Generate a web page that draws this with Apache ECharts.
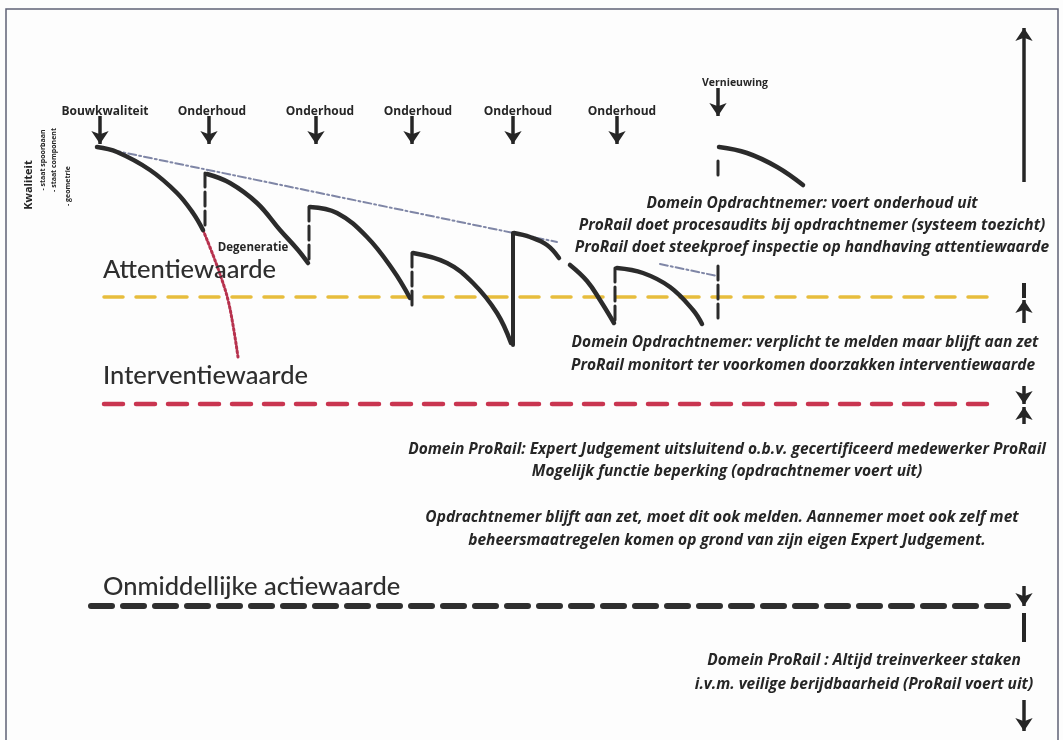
<!DOCTYPE html>
<html>
<head>
<meta charset="utf-8">
<script src="https://cdn.jsdelivr.net/npm/echarts@6/dist/echarts.min.js"></script>
<style>
  html, body { margin: 0; padding: 0; background: #fdfdfd; }
  #chart { width: 1063px; height: 740px; }
</style>
</head>
<body>
<div id="chart"></div>
<script>
// tijdas (x) en kwaliteit (y, naar beneden = slechter)
var bouwCurve = [[97, 147], [117, 152], [150, 170], [177, 193], [193, 213], [203, 230]];
var onderhoud1 = [[207, 174], [230, 183], [257, 203], [280, 230], [298, 250], [308, 263]];
var onderhoud2 = [[310, 207], [337, 213], [367, 237], [393, 270], [410, 298]];
var onderhoud3 = [[413, 253], [447, 263], [473, 283], [497, 313], [511, 343]];
var onderhoud4a = [[514, 233], [530, 237], [547, 245], [559, 258]];
var onderhoud4b = [[570, 265], [587, 281], [600, 300], [614, 323]];
var onderhoud5 = [[617, 268], [643, 273], [670, 287], [693, 310], [702, 324]];
var vernieuwCurve = [[719, 147], [747, 153], [777, 167], [803, 185]];

var degeneratie = [[203, 230], [213, 255], [222, 280], [228, 300], [233, 325], [238, 357]];
var trendA = [[97, 147], [557, 242]];
var trendB = [[660, 264], [717, 276]];

// sprongen door onderhoud: [x, van, tot]
var sprongen = [[205, 173, 230], [309, 207, 262], [412, 253, 308], [615, 268, 323], [718, 266, 323], [718, 161, 179]];
var sprongVol = [513, 233, 345];

// grenswaarden
var attentie = 297;
var interventie = 404;
var actie = 606;

var eventX = [100, 209, 316, 412, 513, 617];
var eventNamen = ['Bouwkwaliteit', 'Onderhoud', 'Onderhoud', 'Onderhoud', 'Onderhoud', 'Onderhoud'];
var vernieuwX = 718;

var chart = echarts.init(document.getElementById('chart'));

function lijn(data, color, width, type, smooth) {
    return {
        type: 'line',
        data: data,
        smooth: smooth ? 0.4 : false,
        symbol: 'none',
        silent: true,
        lineStyle: { color: color, width: width, type: type || 'solid', cap: 'round' },
        z: 3
    };
}

var series = [];

// grenslijnen
series.push(lijn([[104, attentie], [987, attentie]], '#e7bd3d', 3.5, [19, 13]));
series.push(lijn([[104, interventie], [987, interventie]], '#c93550', 4.5, [19, 13]));
series.push(lijn([[91, actie], [1018, actie]], '#2f2f2f', 6, [21, 11]));

// trendlijn
series.push(lijn(trendA, '#7f86a6', 2, [8, 3, 2, 3]));
series.push(lijn(trendB, '#7f86a6', 2, [8, 3, 2, 3]));

// degeneratie
series.push(lijn(degeneratie, '#b7324e', 3, [2, 2.5], true));

// kwaliteitscurves
[bouwCurve, onderhoud1, onderhoud2, onderhoud3, onderhoud4a, onderhoud4b, onderhoud5, vernieuwCurve].forEach(function (c) {
    var s = lijn(c, '#2b2b2b', 4.5, 'solid', true);
    s.z = 4;
    series.push(s);
});

// verticale sprongen
sprongen.forEach(function (s) {
    series.push(lijn([[s[0], s[1]], [s[0], s[2]]], '#2b2b2b', 3, [14, 5]));
});
series.push(lijn([[sprongVol[0], sprongVol[1]], [sprongVol[0], sprongVol[2]]], '#2b2b2b', 4));

// pijlen
var pijlen = eventX.map(function (x) {
    return { coords: [[x, 116], [x, 144]] };
});
pijlen.push({ coords: [[vernieuwX, 88], [vernieuwX, 116]] });
pijlen.push({ coords: [[1024, 182], [1024, 28]] });
pijlen.push({ coords: [[1024, 323], [1024, 300]] });
pijlen.push({ coords: [[1024, 386], [1024, 404]] });
pijlen.push({ coords: [[1024, 424], [1024, 407]] });
pijlen.push({ coords: [[1024, 586], [1024, 606]] });
pijlen.push({ coords: [[1024, 700], [1024, 731]] });

series.push({
    type: 'lines',
    coordinateSystem: 'cartesian2d',
    silent: true,
    symbol: ['none', 'arrow'],
    symbolSize: 13,
    lineStyle: { color: '#262626', width: 3.5, opacity: 1 },
    data: pijlen,
    z: 5
});
series.push({
    type: 'lines',
    coordinateSystem: 'cartesian2d',
    silent: true,
    symbol: 'none',
    lineStyle: { color: '#262626', width: 4, opacity: 1 },
    data: [{ coords: [[1024, 283], [1024, 298]] }, { coords: [[1024, 613], [1024, 642]] }],
    z: 5
});

// teksten
var graphic = [];
graphic.push({
    type: 'rect',
    shape: { x: 6, y: 9, width: 1052, height: 740 },
    style: { fill: 'none', stroke: '#5f6275', lineWidth: 1.5 },
    silent: true
});

function tekst(t, x, y, font, align, color) {
    graphic.push({
        type: 'text',
        silent: true,
        style: {
            text: t, x: x, y: y,
            font: font,
            fill: color || '#262626',
            textAlign: align || 'center',
            textVerticalAlign: 'middle'
        },
        z: 10
    });
}

var labelX = [105, 212, 320, 418, 518, 622];
eventNamen.forEach(function (n, i) {
    tekst(n, labelX[i], 112, 'bold 12px "Open Sans"');
});
tekst('Vernieuwing', 735, 83, 'bold 10.5px "Open Sans"');
tekst('Degeneratie', 253, 248, 'bold 11.5px "Open Sans"');

tekst('Attentiewaarde', 103, 270, '500 25.5px Lato', 'left', '#2e2e2e');
tekst('Interventiewaarde', 103, 376, '500 25.5px Lato', 'left', '#2e2e2e');
tekst('Onmiddellijke actiewaarde', 103, 587, '500 25.5px Lato', 'left', '#2e2e2e');

// verticale aslabels
var asLabels = [
    ['Kwaliteit', 29, 185, 'bold 11px "Open Sans"'],
    ['- staat spoorbaan', 43, 160, 'bold 7px "Open Sans"'],
    ['- staat component', 54, 160, 'bold 7px "Open Sans"'],
    ['- geometrie', 68, 186, 'bold 7px "Open Sans"']
];
asLabels.forEach(function (a) {
    graphic.push({
        type: 'text',
        silent: true,
        x: a[1], y: a[2],
        rotation: Math.PI / 2,
        style: { text: a[0], font: a[3], fill: '#262626', textAlign: 'center', textVerticalAlign: 'middle' }
    });
});

var fi = 'italic bold 15.5px "Open Sans"';
tekst('Domein Opdrachtnemer: voert onderhoud uit', 812, 204, fi);
tekst('ProRail doet procesaudits bij opdrachtnemer (systeem toezicht)', 812, 226, fi);
tekst('ProRail doet steekproef inspectie op handhaving attentiewaarde', 812, 248, fi);
tekst('Domein Opdrachtnemer: verplicht te melden maar blijft aan zet', 805, 343, fi);
tekst('ProRail monitort ter voorkomen doorzakken interventiewaarde', 803, 366, fi);
tekst('Domein ProRail: Expert Judgement uitsluitend o.b.v. gecertificeerd medewerker ProRail', 727, 450, fi);
tekst('Mogelijk functie beperking (opdrachtnemer voert uit)', 727, 472, fi);
tekst('Opdrachtnemer blijft aan zet, moet dit ook melden. Aannemer moet ook zelf met', 722, 518, fi);
tekst('beheersmaatregelen komen op grond van zijn eigen Expert Judgement.', 727, 541, fi);
tekst('Domein ProRail : Altijd treinverkeer staken', 864, 661, fi);
tekst('i.v.m. veilige berijdbaarheid (ProRail voert uit)', 864, 685, fi);

chart.setOption({
    animation: false,
    backgroundColor: '#fdfdfd',
    grid: { left: 0, right: 0, top: 0, bottom: 0 },
    xAxis: { type: 'value', min: 0, max: 1063, show: false },
    yAxis: { type: 'value', min: 0, max: 740, inverse: true, show: false },
    series: series,
    graphic: graphic
});
</script>
</body>
</html>
